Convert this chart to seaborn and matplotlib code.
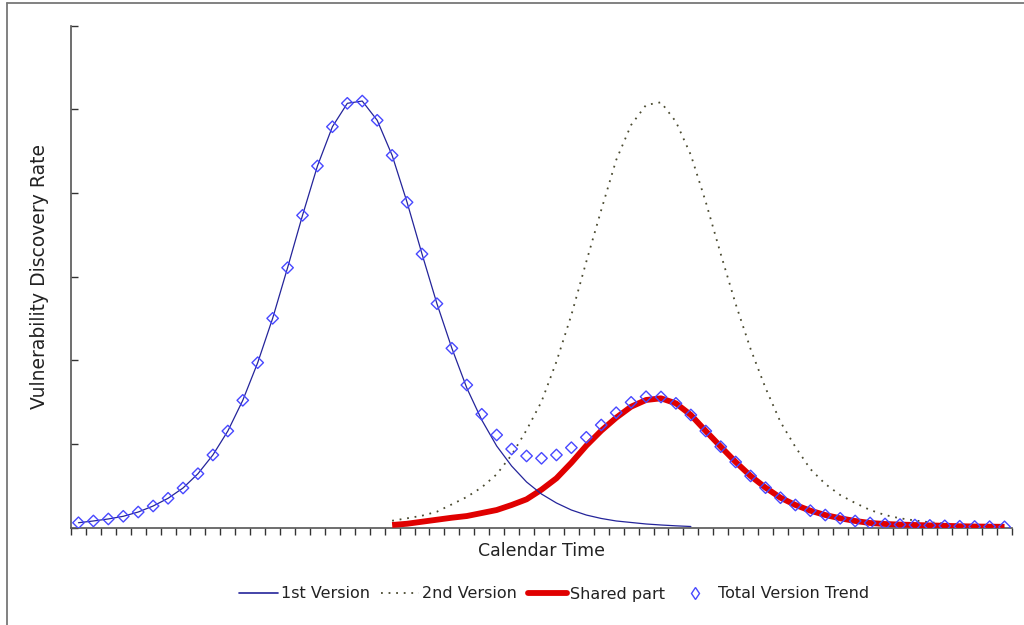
import numpy as np
import pandas as pd
import matplotlib
matplotlib.use("Agg")
import matplotlib.pyplot as plt
from matplotlib.lines import Line2D
import seaborn as sns

# Number of calendar periods on the time axis
n_periods = 63

# 1st version discovery rate, periods 0..41
v1_start = 0
v1_rate = [0.057, 0.078, 0.102, 0.134, 0.185, 0.257, 0.349, 0.472, 0.643, 0.867,
           1.153, 1.520, 1.970, 2.500, 3.105, 3.731, 4.321, 4.790, 5.070, 5.097,
           4.867, 4.448, 3.887, 3.269, 2.675, 2.142, 1.667, 1.285, 0.974, 0.735,
           0.544, 0.400, 0.293, 0.209, 0.149, 0.108, 0.078, 0.060, 0.042, 0.030,
           0.020, 0.012]

# 2nd version discovery rate, periods 21..62
v2_start = 21
v2_rate = [0.081, 0.110, 0.141, 0.189, 0.277, 0.365, 0.480, 0.636, 0.867, 1.165,
           1.504, 1.982, 2.540, 3.177, 3.795, 4.392, 4.811, 5.050, 5.082, 4.850,
           4.452, 3.890, 3.269, 2.671, 2.133, 1.667, 1.261, 0.962, 0.699, 0.520,
           0.388, 0.293, 0.209, 0.149, 0.110, 0.084, 0.062, 0.048, 0.036, 0.026,
           0.018, 0.012]

# Part of the 2nd version shared with the 1st, periods 21..62
shared_start = 21
shared_rate = [0.030, 0.045, 0.069, 0.093, 0.117, 0.137, 0.173, 0.209, 0.269, 0.337,
               0.452, 0.588, 0.774, 0.978, 1.157, 1.312, 1.444, 1.524, 1.544, 1.484,
               1.345, 1.153, 0.966, 0.783, 0.616, 0.476, 0.356, 0.269, 0.201, 0.149,
               0.110, 0.078, 0.054, 0.042, 0.035, 0.030, 0.025, 0.020, 0.015, 0.012,
               0.010, 0.008]

# Total trend over both versions, periods 0..62
total_rate = [0.057, 0.078, 0.102, 0.134, 0.185, 0.257, 0.349, 0.472, 0.643, 0.867,
              1.153, 1.520, 1.970, 2.500, 3.105, 3.731, 4.321, 4.790, 5.070, 5.097,
              4.867, 4.448, 3.887, 3.269, 2.675, 2.142, 1.703, 1.353, 1.106, 0.938,
              0.855, 0.827, 0.867, 0.954, 1.078, 1.225, 1.372, 1.496, 1.563, 1.560,
              1.484, 1.345, 1.153, 0.966, 0.783, 0.616, 0.476, 0.356, 0.269, 0.201,
              0.149, 0.110, 0.078, 0.054, 0.042, 0.035, 0.030, 0.025, 0.020, 0.015,
              0.012, 0.010, 0.008]

legend_labels = ["1st Version", "2nd Version", "Shared part", "Total Version Trend"]
x_label = "Calendar Time"
y_label = "Vulnerability Discovery Rate"


def frame(start, values):
    t = np.arange(start, start + len(values)) + 0.5
    return pd.DataFrame({"t": t, "rate": values})


df_v1 = frame(v1_start, v1_rate)
df_v2 = frame(v2_start, v2_rate)
df_sh = frame(shared_start, shared_rate)
df_tot = frame(0, total_rate)

sns.set_style("ticks")
plt.rcParams["font.family"] = ["DejaVu Sans"]
plt.rcParams["text.color"] = "#222222"
plt.rcParams["axes.labelcolor"] = "#222222"

c_v1 = "#24249a"
c_v2 = "#4a4a30"
c_sh = "#e00000"
c_tot = "#4848ff"

fig = plt.figure(figsize=(10.24, 6.25), dpi=100)
ax = fig.add_axes([71 / 1024, 97.5 / 625, 941 / 1024, 502 / 625])

sns.lineplot(data=df_v2, x="t", y="rate", ax=ax, color=c_v2, linewidth=1.3,
             linestyle=(0, (1, 3.2)), zorder=2)
sns.lineplot(data=df_sh, x="t", y="rate", ax=ax, color=c_sh, linewidth=4.2,
             zorder=3, solid_capstyle="butt")
sns.lineplot(data=df_v1, x="t", y="rate", ax=ax, color=c_v1, linewidth=0.9,
             zorder=4)
sns.scatterplot(data=df_tot, x="t", y="rate", ax=ax, marker="D", s=34,
                facecolors="none", edgecolors=c_tot, linewidths=1.0, zorder=5)

ax.set_xlim(0, n_periods)
ax.set_ylim(0, 6)
ax.set_xticks(np.arange(0, n_periods + 1))
ax.set_yticks(np.arange(0, 7))
ax.set_xticklabels([])
ax.set_yticklabels([])
ax.tick_params(axis="x", direction="out", length=5, width=1, color="#333333")
ax.tick_params(axis="y", direction="in", length=5, width=1, color="#333333")
for side in ("top", "right"):
    ax.spines[side].set_visible(False)
for side in ("left", "bottom"):
    ax.spines[side].set_color("#555555")
    ax.spines[side].set_linewidth(1.2)

ax.set_xlabel(x_label, fontsize=12.5, labelpad=2)
ax.set_ylabel(y_label, fontsize=13.5, labelpad=12)

handles = [
    Line2D([], [], color=c_v1, linewidth=1.2),
    Line2D([], [], color=c_v2, linewidth=1.3, linestyle=(0, (1, 3.2))),
    Line2D([], [], color=c_sh, linewidth=4.2),
    Line2D([], [], color=c_tot, marker="d", markersize=6, markerfacecolor="none",
           linestyle="none"),
]
fig.legend(handles, legend_labels, loc="center", ncol=4, frameon=False,
           bbox_to_anchor=(554 / 1024, 1 - 594 / 625), fontsize=11.5,
           handlelength=2.4, handletextpad=0.2, columnspacing=0.7)

# Outer border of the figure panel
fig.add_artist(Line2D([7 / 1024, 7 / 1024], [0, 1 - 3 / 625], color="#777777",
                      linewidth=1.3, transform=fig.transFigure))
fig.add_artist(Line2D([7 / 1024, 1], [1 - 3 / 625, 1 - 3 / 625], color="#777777",
                      linewidth=1.3, transform=fig.transFigure))

fig.savefig("out.png", dpi=100)
